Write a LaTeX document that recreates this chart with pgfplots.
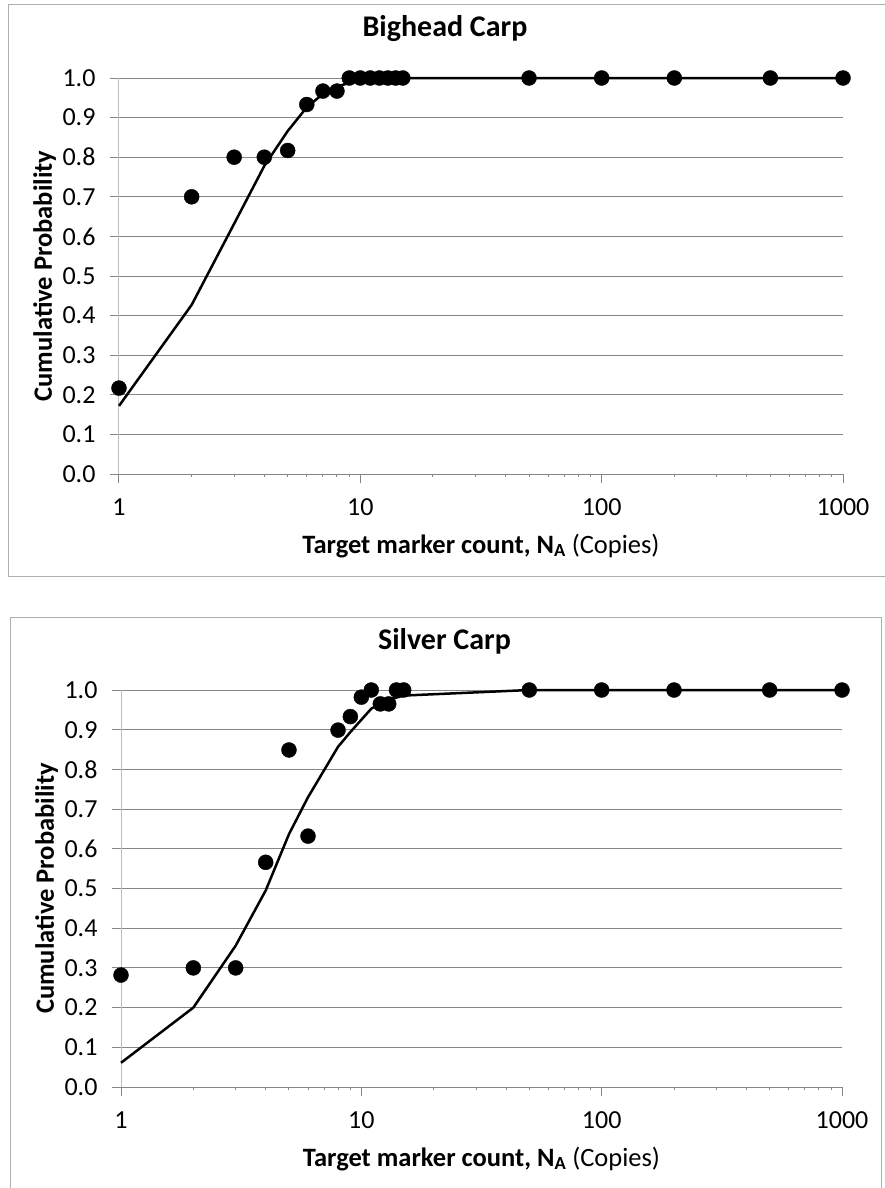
\documentclass[border=0pt]{standalone}
\usepackage{pgfplots}
\pgfplotsset{compat=1.18}
\usepackage{fontspec}
\setmainfont{Carlito}
\usetikzlibrary{calc}
\definecolor{gridgray}{RGB}{134,134,134}
\definecolor{axgray}{RGB}{190,190,190}
\definecolor{framegray}{RGB}{175,175,175}
\pgfplotsset{
 carp/.style={
  scale only axis,
  xmin=1, xmax=1000, ymin=0, ymax=1,
  axis lines=left,
  x axis line style={-, draw=gridgray, line width=1pt},
  y axis line style={-, draw=axgray, line width=1pt},
  xtick={1,10,100,1000}, xticklabels={1,10,100,1000},
  minor xtick={},
  ytick={0,0.1,0.2,0.3,0.4,0.5,0.6,0.7,0.8,0.9,1},
  yticklabel style={font=\fontsize{26}{30}\selectfont, /pgf/number format/fixed, /pgf/number format/fixed zerofill, /pgf/number format/precision=1, /pgf/number format/assume math mode=true, xshift=-11pt},
  xticklabel style={font=\fontsize{26}{30}\selectfont, yshift=-12pt},
  ymajorgrids, major grid style={draw=gridgray, line width=1pt},
  tick align=outside, major tick length=9pt,
  tick style={draw=gridgray, line width=1pt},
  clip=false,
  xlabel={\textbf{Target marker count, N\textsubscript{A}} (Copies)},
  ylabel={\textbf{Cumulative Probability}},
  label style={font=\fontsize{26.5}{31}\selectfont},
  title style={font=\bfseries\fontsize{30}{35}\selectfont, at={(axis description cs:0.5,1)}, anchor=base, yshift=36pt},
  xlabel style={at={(axis description cs:0.5,0)}, anchor=base, yshift=-79pt},
  ylabel style={at={($(axis description cs:0,0.5)+(-67pt,0pt)$)}, anchor=base},
 },
 curve/.style={black, line width=2.5pt, no marks},
 pts/.style={only marks, mark=*, mark size=7.5pt, black},
}
\begin{document}
\begin{tikzpicture}
\useasboundingbox (0pt,0pt) rectangle (884pt,-1188pt);
\draw[framegray,line width=1pt] (8.5pt,-4.5pt) rectangle (900pt,-576.5pt);
\draw[framegray,line width=1pt] (10.5pt,-617.5pt) rectangle (881.5pt,-1200pt);
\begin{semilogxaxis}[carp, at={(119pt,-474pt)}, anchor=south west, width=724pt, height=396pt,
  title={Bighead Carp}, title style={xshift=-36pt}]
\addplot[curve] coordinates {
 (1,0.172) (2,0.427) (3,0.632) (4,0.778) (5,0.866) (6,0.926) (7,0.960) (8,0.978)
 (9,0.988) (10,0.994) (11,0.997) (12,0.998) (13,0.999) (14,1.0) (15,1.0)
 (50,1.0) (100,1.0) (200,1.0) (500,1.0) (1000,1.0)};
\addplot[pts] coordinates {
 (1,0.217) (2,0.700) (3,0.800) (4,0.800) (5,0.817) (6,0.933) (7,0.967) (8,0.967)
 (9,1.0) (10,1.0) (11,1.0) (12,1.0) (13,1.0) (14,1.0) (15,1.0)
 (50,1.0) (100,1.0) (200,1.0) (500,1.0) (1000,1.0)};
\end{semilogxaxis}
\begin{semilogxaxis}[carp, at={(121pt,-1087pt)}, anchor=south west, width=721pt, height=397pt,
  title={Silver Carp}, title style={xshift=-37pt, yshift=-1pt}]
\addplot[curve] coordinates {
 (1,0.061) (2,0.200) (3,0.356) (4,0.495) (5,0.637) (6,0.730) (8,0.857)
 (9,0.894) (10,0.925) (11,0.953) (12,0.966) (13,0.975) (14,0.981) (15,0.986)
 (50,1.0) (100,1.0) (200,1.0) (500,1.0) (1000,1.0)};
\addplot[pts] coordinates {
 (1,0.282) (2,0.300) (3,0.300) (4,0.566) (5,0.849) (6,0.632) (8,0.899)
 (9,0.933) (10,0.982) (11,1.0) (12,0.965) (13,0.965) (14,1.0) (15,1.0)
 (50,1.0) (100,1.0) (200,1.0) (500,1.0) (1000,1.0)};
\end{semilogxaxis}
\end{tikzpicture}
\end{document}
